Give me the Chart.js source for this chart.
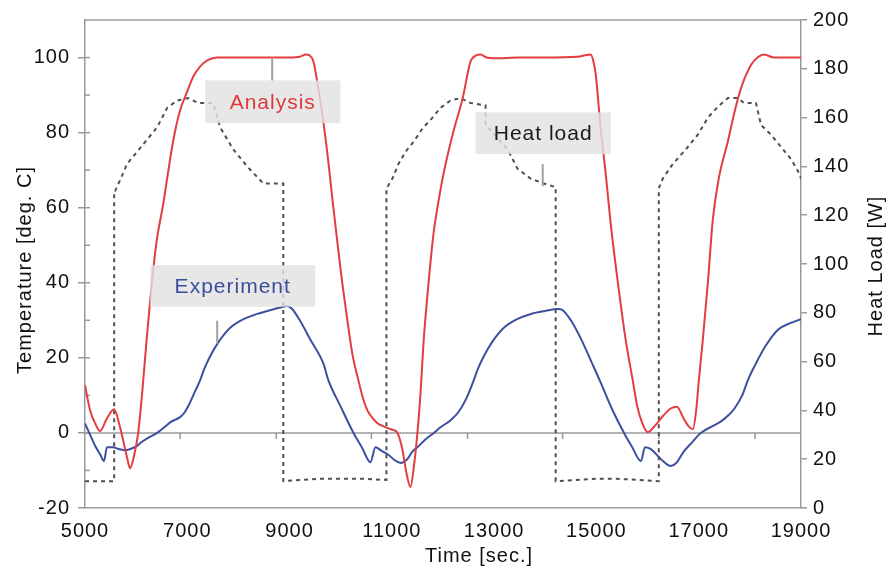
<!DOCTYPE html>
<html><head><meta charset="utf-8">
<script src="https://cdn.jsdelivr.net/npm/chart.js@4.4.1/dist/chart.umd.min.js"></script>
<style>html,body{margin:0;padding:0;background:#fff;}#wrap{width:895px;height:573px;}</style>
</head><body><div id="wrap"><canvas id="c" width="895" height="573"></canvas></div>
<script>
// ---- tick labels ----
const xTickLabels = [5000, 7000, 9000, 11000, 13000, 15000, 17000, 19000];
const leftTickLabels = [-20, 0, 20, 40, 60, 80, 100];
const rightTickLabels = [0, 20, 40, 60, 80, 100, 120, 140, 160, 180, 200];
const zeroLineTickTimes = [6860, 8740, 10600, 12480, 14340, 16220, 18100];

// ---- Analysis (red), temperature [deg C] ----
const analysisTime = [5000,5100,5200,5294,5430,5568,5685,5822,5880,5960,6040,6120,6200,6300,6400,6530,6620,6723,6850,7000,7120,7250,7400,7585,8000,8500,9000,9200,9320,9400,9464,9560,9660,9760,9856,9950,10030,10130,10228,10346,10430,10522,10620,10718,10830,10933,11020,11110,11200,11290,11364,11430,11500,11560,11618,11716,11814,11912,12010,12206,12382,12540,12640,12735,12850,12990,13500,14000,14633,14780,14888,14940,14986,15084,15182,15280,15420,15570,15710,15800,15900,16004,16150,16300,16450,16572,16700,16800,16885,16950,17003,17081,17179,17277,17395,17571,17700,17826,18022,18150,18275,18471,19000];
const analysisTemp = [12.7,6,2.5,0.5,3.9,6.3,1.5,-6.5,-9.4,-6,0,11,24,39,51,61,69,77.7,85.5,91,95,97.6,99.3,100,100,100,100,100.2,100.8,100.5,99,92,83,72,60,49,40,30,21,14,9.5,6,4,2.6,1.8,1.2,0.8,0,-4,-11,-14.4,-9,0,10.5,23.8,39.7,53,61.7,69,80.4,89,99,100.5,100.8,100,99.8,100,100,100.2,100.6,100.8,99,95.5,81,69,55.6,40,25,14,7,2.5,0.2,2,4.5,6.5,7,4,1.8,1,6,14,25,40,57,68,77.7,85.5,91.8,98,100,100.8,100,100];

// ---- Experiment (blue), temperature [deg C] ----
const experimentTime = [5000,5100,5200,5300,5372,5430,5550,5650,5783,5900,6000,6100,6250,6410,6550,6665,6760,6860,6950,7050,7150,7250,7330,7450,7600,7840,8100,8370,8650,8877,8955,9050,9200,9400,9660,9760,10000,10250,10420,10580,10680,10800,10950,11050,11170,11300,11400,11500,11650,11820,11950,12150,12300,12450,12600,12680,12800,12950,13190,13450,13720,14000,14250,14330,14500,14700,14900,15084,15300,15540,15700,15870,15950,16050,16150,16300,16450,16560,16700,16870,17040,17300,17450,17580,17700,17850,17960,18100,18300,18550,18800,19000];
const experimentTemp = [2.5,-0.5,-3.5,-5.8,-7.5,-3.8,-3.8,-4.3,-4.6,-4.2,-3.6,-2.5,-1.2,0,1.5,2.8,3.5,4.2,5.5,8,11,14,17,20.5,24,28,30.3,31.7,32.8,33.6,33.8,33,30,25,18.5,14,7,0,-4,-7.8,-3.8,-4.8,-6,-7.2,-8,-7,-5,-3.8,-1.8,0,1.5,3.4,5.5,9,14,17,20.5,24,28,30.3,31.7,32.5,33,32.8,30,25,19,13.4,6.5,0,-3.8,-7.5,-3.8,-4.2,-5.4,-7.5,-8.8,-8,-5.1,-2.5,0,2,3.2,4.7,6.5,10,14,18,23,27.5,29.3,30.3];

// ---- Heat load (dashed), [W] ----
const heatTime = [5000,5570,5570,5590,5700,5822,6018,6214,6410,6606,6802,7017,7213,7506,7643,7898,8172,8485,8877,8877,9200,9600,10000,10400,10894,10894,11011,11129,11266,11422,11598,11794,11951,12147,12342,12538,12832,12832,13263,13459,13713,13968,14203,14203,14600,15000,15400,15800,16219,16219,16297,16493,16748,16983,17179,17375,17571,17767,17884,18119,18217,18413,18609,18805,18942,19000];
const heatLoad = [11,11,130,130,135,141,146,151,156,164,167,168,166,166,156,147,140,133,133,11,11.5,12,12,12,11.5,131,135,141,146,150,155.5,160,164,167,168,166,165,157,147,139,135,133,131.5,11,11.5,12,12,11.5,11,131,135,141,147,153,160,164.5,168,168,166,166,157,153,148,143,138,135];

const pairs = (xs, ys) => xs.map((x, i) => ({x: x, y: ys[i]}));

const AXIS = '#9a9a9a';
const FONT = '"Liberation Sans", Arial, sans-serif';

const decor = {
  id: 'decor',
  beforeUpdate(chart) { chart.ctx.letterSpacing = '1px'; },
  beforeDraw(chart) { chart.ctx.letterSpacing = '1px'; },
  beforeDatasetsDraw(chart) {
    const {ctx, chartArea: a, scales} = chart;
    const y = scales.y, x = scales.x;
    ctx.save();
    ctx.strokeStyle = AXIS; ctx.lineWidth = 1.5;
    ctx.beginPath(); ctx.moveTo(a.left, a.top); ctx.lineTo(a.right, a.top); ctx.stroke();
    const y0 = y.getPixelForValue(0);
    ctx.beginPath(); ctx.moveTo(a.left, y0); ctx.lineTo(a.right, y0); ctx.stroke();
    zeroLineTickTimes.forEach(t => {
      const px = x.getPixelForValue(t);
      ctx.beginPath(); ctx.moveTo(px, y0); ctx.lineTo(px, y0 + 6); ctx.stroke();
    });
    for (let v = -10; v <= 100; v += 10) {
      const py = y.getPixelForValue(v);
      ctx.beginPath(); ctx.moveTo(a.left, py); ctx.lineTo(a.left + 5, py); ctx.stroke();
    }
    ctx.restore();
  },
  afterDatasetsDraw(chart) {
    const {ctx, scales} = chart;
    const x = scales.x, y = scales.y;
    const notes = [
      {text: 'Analysis', color: '#e0393b', t0: 7350, t1: 9993, v0: 93.9, v1: 82.5, lt: 8660, lv0: 100, lv1: 93.9},
      {text: 'Heat load', color: '#1a1a1a', t0: 12637, t1: 15280, v0: 85.4, v1: 74.3, lt: 13950, lv0: 71.6, lv1: 65.7},
      {text: 'Experiment', color: '#3a4d9c', t0: 6273, t1: 9504, v0: 44.7, v1: 33.6, lt: 7585, lv0: 29.9, lv1: 23.8}
    ];
    ctx.save();
    notes.forEach(n => {
      const x0 = x.getPixelForValue(n.t0), x1 = x.getPixelForValue(n.t1);
      const y0 = y.getPixelForValue(n.v0), y1 = y.getPixelForValue(n.v1);
      ctx.fillStyle = 'rgba(226,226,226,0.82)';
      ctx.fillRect(x0, y0, x1 - x0, y1 - y0);
      ctx.strokeStyle = '#a0a0a0'; ctx.lineWidth = 2;
      const lx = x.getPixelForValue(n.lt);
      ctx.beginPath(); ctx.moveTo(lx, y.getPixelForValue(n.lv0)); ctx.lineTo(lx, y.getPixelForValue(n.lv1)); ctx.stroke();
      ctx.fillStyle = n.color;
      ctx.font = '21px ' + FONT;
      ctx.letterSpacing = '1px';
      ctx.textAlign = 'center'; ctx.textBaseline = 'middle';
      ctx.fillText(n.text, (x0 + x1) / 2, (y0 + y1) / 2 + 1);
    });
    ctx.restore();
  },
  afterDraw(chart) {
    const {ctx} = chart;
    ctx.save();
    ctx.letterSpacing = '1px';
    ctx.fillStyle = '#111';
    ctx.font = '20px ' + FONT;
    ctx.textAlign = 'center'; ctx.textBaseline = 'middle';
    ctx.fillText('Time [sec.]', 479, 556);
    ctx.save(); ctx.translate(25, 270); ctx.rotate(-Math.PI / 2);
    ctx.fillText('Temperature [deg. C]', 0, 0); ctx.restore();
    ctx.save(); ctx.translate(876, 266); ctx.rotate(-Math.PI / 2);
    ctx.fillText('Heat Load [W]', 0, 0); ctx.restore();
    ctx.restore();
  }
};

const tickFont = {family: FONT, size: 20};
const plain = v => String(v);

new Chart(document.getElementById('c'), {
  type: 'line',
  data: {
    datasets: [
      {label: 'Analysis', data: pairs(analysisTime, analysisTemp), yAxisID: 'y', borderColor: '#e43d3f', borderWidth: 2, cubicInterpolationMode: 'monotone', pointRadius: 0, fill: false, order: 1},
      {label: 'Experiment', data: pairs(experimentTime, experimentTemp), yAxisID: 'y', borderColor: '#3d4f9f', borderWidth: 2, cubicInterpolationMode: 'monotone', pointRadius: 0, fill: false, order: 2},
      {label: 'Heat load', data: pairs(heatTime, heatLoad), yAxisID: 'y2', borderColor: '#505050', borderWidth: 2, borderDash: [4, 4], tension: 0, pointRadius: 0, fill: false, order: 3}
    ]
  },
  options: {
    responsive: false, animation: false, devicePixelRatio: 1,
    layout: {padding: {top: 18, left: 0, right: 0, bottom: 0}},
    plugins: {legend: {display: false}, tooltip: {enabled: false}},
    scales: {
      x: {
        type: 'linear', min: 5000, max: 19000,
        afterBuildTicks: s => { s.ticks = xTickLabels.map(v => ({value: v})); },
        afterFit: s => { s.height = 65; },
        grid: {display: false, drawTicks: false},
        border: {display: true, color: AXIS, width: 1.5},
        ticks: {color: '#111', font: tickFont, padding: 11, maxRotation: 0, autoSkip: false, callback: plain}
      },
      y: {
        position: 'left', min: -20, max: 110,
        afterBuildTicks: s => { s.ticks = leftTickLabels.map(v => ({value: v})); },
        afterFit: s => { s.width = 85; },
        grid: {drawOnChartArea: false, tickLength: 7, color: AXIS, lineWidth: 1.5},
        border: {display: true, color: AXIS, width: 1.5},
        ticks: {color: '#111', font: tickFont, padding: 8, callback: plain}
      },
      y2: {
        position: 'right', min: 0, max: 200,
        afterBuildTicks: s => { s.ticks = rightTickLabels.map(v => ({value: v})); },
        afterFit: s => { s.width = 94; },
        grid: {drawOnChartArea: false, tickLength: 6, color: AXIS, lineWidth: 1.5},
        border: {display: true, color: AXIS, width: 1.5},
        ticks: {color: '#111', font: tickFont, padding: 6, callback: plain}
      }
    }
  },
  plugins: [decor]
});
</script>
</body></html>
